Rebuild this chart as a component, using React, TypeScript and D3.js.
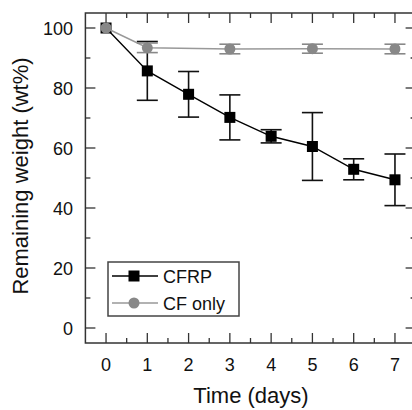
import React from 'react'
import * as d3 from 'd3'

// days, remaining weight (wt%) and std dev
const days = [0, 1, 2, 3, 4, 5, 6, 7]
const cfrpMean = [100, 85.7, 77.9, 70.2, 63.9, 60.5, 52.9, 49.4]
const cfrpErr = [0, 9.8, 7.6, 7.5, 2.2, 11.3, 3.5, 8.6]

const cfDays = [0, 1, 3, 5, 7]
const cfMean = [100, 93.4, 93.0, 93.1, 93.0]
const cfErr = [0, 1.6, 1.6, 1.5, 1.6]

const xTicks = [0, 1, 2, 3, 4, 5, 6, 7]
const yTicks = [0, 20, 40, 60, 80, 100]

const W = 412
const H = 410
const font = "'Liberation Sans', Arial, sans-serif"

export default function App() {
  const x = d3.scaleLinear().domain([-0.5, 7.5]).range([85.4, 415.6])
  const y = d3.scaleLinear().domain([-5, 105]).range([343, 13])

  const cfrp = days.map((d, i) => ({ d, v: cfrpMean[i], e: cfrpErr[i] }))
  const cf = cfDays.map((d, i) => ({ d, v: cfMean[i], e: cfErr[i] }))

  const line = d3.line<{ d: number; v: number }>()
    .x(p => x(p.d))
    .y(p => y(p.v))

  const [x0, x1] = x.range()
  const [yb, yt] = y.range()
  const xMinor = d3.range(-0.5, 7.51, 0.5).filter(v => !Number.isInteger(v) && v > -0.5 && v < 7.5)
  const yMinor = d3.range(10, 101, 20)
  const axisColor = '#333'

  const errBars = (pts: { d: number; v: number; e: number }[], color: string, w: number) =>
    pts.filter(p => p.e > 0).map((p, i) => (
      <g key={i} stroke={color} strokeWidth={w}>
        <line x1={x(p.d)} x2={x(p.d)} y1={y(p.v - p.e)} y2={y(p.v + p.e)} />
        <line x1={x(p.d) - 10.5} x2={x(p.d) + 10.5} y1={y(p.v - p.e)} y2={y(p.v - p.e)} />
        <line x1={x(p.d) - 10.5} x2={x(p.d) + 10.5} y1={y(p.v + p.e)} y2={y(p.v + p.e)} />
      </g>
    ))

  return (
    <svg width={W} height={H} style={{ position: 'absolute', left: 0, top: 0, background: '#fff' }} fontFamily={font}>
      {/* frame */}
      <rect x={x0} y={yt} width={x1 - x0} height={yb - yt} fill="none" stroke={axisColor} strokeWidth={1.5} />

      {/* x ticks, top and bottom, pointing in */}
      {xTicks.map(t => (
        <g key={'xt' + t} stroke={axisColor} strokeWidth={1.3}>
          <line x1={x(t)} x2={x(t)} y1={yb} y2={yb - 10} />
          <line x1={x(t)} x2={x(t)} y1={yt} y2={yt + 10} />
        </g>
      ))}
      {xMinor.map(t => (
        <g key={'xm' + t} stroke={axisColor} strokeWidth={1.3}>
          <line x1={x(t)} x2={x(t)} y1={yb} y2={yb - 5} />
          <line x1={x(t)} x2={x(t)} y1={yt} y2={yt + 5} />
        </g>
      ))}
      {/* y ticks, left and right */}
      {yTicks.map(t => (
        <g key={'yt' + t} stroke={axisColor} strokeWidth={1.3}>
          <line x1={x0} x2={x0 + 10} y1={y(t)} y2={y(t)} />
          <line x1={x1} x2={x1 - 10} y1={y(t)} y2={y(t)} />
        </g>
      ))}
      {yMinor.map(t => (
        <g key={'ym' + t} stroke={axisColor} strokeWidth={1.3}>
          <line x1={x0} x2={x0 + 5} y1={y(t)} y2={y(t)} />
          <line x1={x1} x2={x1 - 5} y1={y(t)} y2={y(t)} />
        </g>
      ))}

      {/* tick labels */}
      {xTicks.map(t => (
        <text key={'xl' + t} x={x(t)} y={371} fontSize={18} textAnchor="middle" fill="#111">{t}</text>
      ))}
      {yTicks.map(t => (
        <text key={'yl' + t} x={73} y={y(t) + 6.5} fontSize={18} textAnchor="end" fill="#111">{t}</text>
      ))}

      {/* axis titles */}
      <text x={251} y={403} fontSize={22} textAnchor="middle" fill="#111">Time (days)</text>
      <text transform="translate(28,176) rotate(-90)" fontSize={22} textAnchor="middle" fill="#111">Remaining weight (wt%)</text>

      {/* CFRP */}
      <path d={line(cfrp) ?? ''} fill="none" stroke="#000" strokeWidth={1.4} />
      {errBars(cfrp, '#111', 1.6)}
      {cfrp.map((p, i) => (
        <rect key={'sq' + i} x={x(p.d) - 5.5} y={y(p.v) - 5.5} width={11} height={11} fill="#000" />
      ))}

      {/* CF only */}
      <path d={line(cf) ?? ''} fill="none" stroke="#999" strokeWidth={1.5} />
      {errBars(cf, '#888', 1.6)}
      {cf.map((p, i) => (
        <circle key={'c' + i} cx={x(p.d)} cy={y(p.v)} r={5.5} fill="#888" />
      ))}

      {/* legend */}
      <rect x={108} y={262} width={131} height={54} fill="#fff" stroke="#444" strokeWidth={1.5} />
      <line x1={112} x2={158} y1={276} y2={276} stroke="#000" strokeWidth={1.4} />
      <rect x={134 - 5.5} y={276 - 5.5} width={11} height={11} fill="#000" />
      <text x={163} y={282.5} fontSize={18} fill="#111">CFRP</text>
      <line x1={112} x2={158} y1={303} y2={303} stroke="#999" strokeWidth={1.5} />
      <circle cx={134} cy={303} r={5.5} fill="#888" />
      <text x={163} y={309.5} fontSize={18} fill="#111">CF only</text>
    </svg>
  )
}
